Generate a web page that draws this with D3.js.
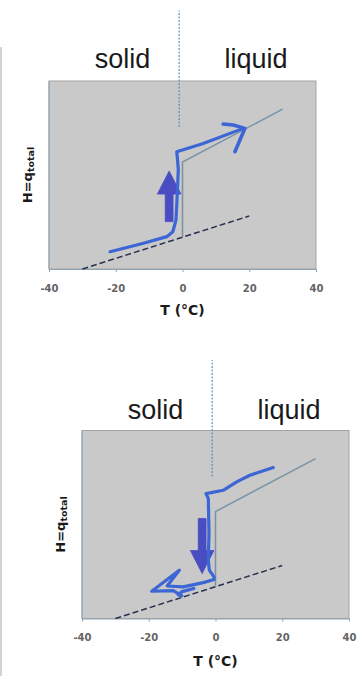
<!DOCTYPE html>
<html>
<head>
<meta charset="utf-8">
<script src="https://cdn.jsdelivr.net/npm/d3@7"></script>
<style>
  html, body { margin: 0; padding: 0; background: #ffffff; }
  svg { display: block; }
</style>
</head>
<body>
<svg id="chart" width="361" height="676"></svg>
<script>
// ---------- data ----------
const tTicks = [-40, -20, 0, 20, 40];
const tDomain = [-40, 40];
const hDomain = [0, 100];
const phaseLabels = ["solid", "liquid"];
const phaseLabelT = [-18, 22];
const xTitle = "T (°C)";

// dashed line (extrapolated solid)
const dashedT = [-30, 20];
const dashedH = [0, 28.2];
// thin reference path (ideal melting)
const refT = [0, 0, 30];
const refH = [16.9, 56.9, 85];
// melting point marker (dotted)
const meltT = [-1, -1];
const meltH = [75.5, 137.5];

// top panel: heating, hand-drawn path
const heatT = [-21.7, -11.7, -4.7, -2.9, -1.95, -1.56, -1.26, -1.56, -1.74, 6.0, 18.2];
const heatH = [9.2, 13.7, 17.2, 19.8, 26.1, 40.3, 52.7, 59.7, 62.4, 66.6, 74.8];
const heatHeadT = [12.2, 15.2, 18.7, 17.2, 15.7];
const heatHeadH = [77.1, 76.6, 74.8, 68.6, 62.4];
const heatArrowT = -4.0;
const heatArrowH = [25.2, 52.1];   // from, to (tip)

// bottom panel: cooling, hand-drawn path
const coolT = [17.3, 10.3, 6.35, 2.3, -1.65, -2.85, -2.15, -1.95, -2.15, -1.85, -0.45, -0.45, -3.65, -9.65, -14.5, -10.85, -19.1, -12.65, -10.1, -11.2, -10.0, -6.5];
const coolH = [80.3, 76.2, 72.7, 68.2, 66.8, 66.5, 63.8, 45.2, 31, 25.7, 22.1, 20.7, 19.1, 16.8, 17.3, 25.7, 14.5, 14.8, 12.0, 12.7, 14.3, 16.0];
const coolArrowT = -4.0;
const coolArrowH = [53.2, 23.9];   // from, to (tip)

// ---------- layout ----------
const panels = [
  { left: 49, top: 81, labelBase: 67.5, tickBase: 291.5, titleBase: 314.5,
    path: [heatT, heatH], head: [heatHeadT, heatHeadH], arrow: [heatArrowT, heatArrowH] },
  { left: 82, top: 430.5, labelBase: 419.3, tickBase: 640.5, titleBase: 666,
    path: [coolT, coolH], head: null, arrow: [coolArrowT, coolArrowH] }
];
const W = 267, H = 188;

const svg = d3.select("#chart");

// slide edge line at left
svg.append("line").attr("x1", 1).attr("x2", 1).attr("y1", 47).attr("y2", 676)
  .attr("stroke", "#c4c4c4").attr("stroke-width", 1.5);

const zip = (a, b) => a.map((v, i) => [v, b[i]]);

panels.forEach(p => {
  const x = d3.scaleLinear().domain(tDomain).range([0, W]);
  const y = d3.scaleLinear().domain(hDomain).range([H, 0]);
  const g = svg.append("g").attr("transform", `translate(${p.left},${p.top})`);
  const line = d3.line().x(d => x(d[0])).y(d => y(d[1]));

  // plot area
  g.append("rect").attr("x", 0).attr("y", 0).attr("width", W).attr("height", H)
    .attr("fill", "#c9c9c9").attr("stroke", "#a3a3a3").attr("stroke-width", 1);
  g.append("line").attr("x1", 0).attr("x2", 0).attr("y1", 0).attr("y2", H)
    .attr("stroke", "#8da3b3").attr("stroke-width", 1);

  // x axis
  const ax = g.append("g").attr("transform", `translate(0,${H})`)
    .call(d3.axisBottom(x).tickValues(tTicks).tickSize(3).tickSizeOuter(0).tickFormat(d => String(d)));
  ax.select(".domain").attr("stroke", "#8da3b3").attr("stroke-width", 1.2);
  ax.selectAll(".tick line").attr("stroke", "#8da3b3");
  ax.selectAll(".tick text").attr("y", p.tickBase - p.top - H).attr("dy", 0)
    .attr("font-family", "DejaVu Sans").attr("font-weight", "bold").attr("font-size", 10)
    .attr("fill", "#646464");

  // dashed line
  g.append("path").attr("d", line(zip(dashedT, dashedH)))
    .attr("fill", "none").attr("stroke", "#27324d").attr("stroke-width", 1.5)
    .attr("stroke-dasharray", "6,3");

  // reference path
  g.append("path").attr("d", line(zip(refT, refH)))
    .attr("fill", "none").attr("stroke", "#7a93a4").attr("stroke-width", 1.5);

  // melting dotted line
  g.append("path").attr("d", line(zip(meltT, meltH)))
    .attr("fill", "none").attr("stroke", "#5f90b5").attr("stroke-width", 1.2)
    .attr("stroke-dasharray", "2,1.5");

  // big arrow
  const [aT, aH] = p.arrow;
  const ax0 = x(aT), yFrom = y(aH[0]), yTip = y(aH[1]);
  const dir = yTip < yFrom ? -1 : 1;
  const headLen = 23, headHalf = 11.8, shaftHalf = 3.9;
  const yBase = yTip - dir * headLen;
  const arrowPts = [
    [ax0 - shaftHalf, yFrom], [ax0 - shaftHalf, yBase], [ax0 - headHalf, yBase],
    [ax0, yTip], [ax0 + headHalf, yBase], [ax0 + shaftHalf, yBase], [ax0 + shaftHalf, yFrom]
  ];
  g.append("path").attr("d", "M" + arrowPts.map(d => d.join(",")).join("L") + "Z")
    .attr("fill", "#4a4cc2").attr("stroke", "#4a4cc2").attr("stroke-width", 0.8)
    .attr("stroke-linejoin", "round");

  // hand-drawn blue path
  g.append("path").attr("d", line(zip(p.path[0], p.path[1])))
    .attr("fill", "none").attr("stroke", "#3c66d6").attr("stroke-width", 3.2)
    .attr("stroke-linejoin", "round").attr("stroke-linecap", "round");
  if (p.head) {
    g.append("path").attr("d", line(zip(p.head[0], p.head[1])))
      .attr("fill", "none").attr("stroke", "#3c66d6").attr("stroke-width", 3.6)
      .attr("stroke-linejoin", "round").attr("stroke-linecap", "round");
  }

  // phase labels
  phaseLabels.forEach((lab, i) => {
    g.append("text").attr("x", x(phaseLabelT[i])).attr("y", p.labelBase - p.top)
      .attr("text-anchor", "middle").attr("font-family", "Liberation Sans, Arial")
      .attr("font-size", 27).attr("fill", "#1a1a1a").text(lab);
  });

  // x title
  g.append("text").attr("x", x(0)).attr("y", p.titleBase - p.top)
    .attr("text-anchor", "middle").attr("font-family", "DejaVu Sans")
    .attr("font-weight", "bold").attr("font-size", 14).attr("fill", "#1a1a1a").text(xTitle);

  // y title
  const yt = g.append("text").attr("transform", `translate(-17.5,${H / 2}) rotate(-90)`)
    .attr("text-anchor", "middle").attr("font-family", "DejaVu Sans")
    .attr("font-weight", "bold").attr("font-size", 13).attr("fill", "#1a1a1a");
  yt.append("tspan").text("H=q");
  yt.append("tspan").attr("font-size", 9.5).attr("dy", 2).text("total");
});
</script>
</body>
</html>
